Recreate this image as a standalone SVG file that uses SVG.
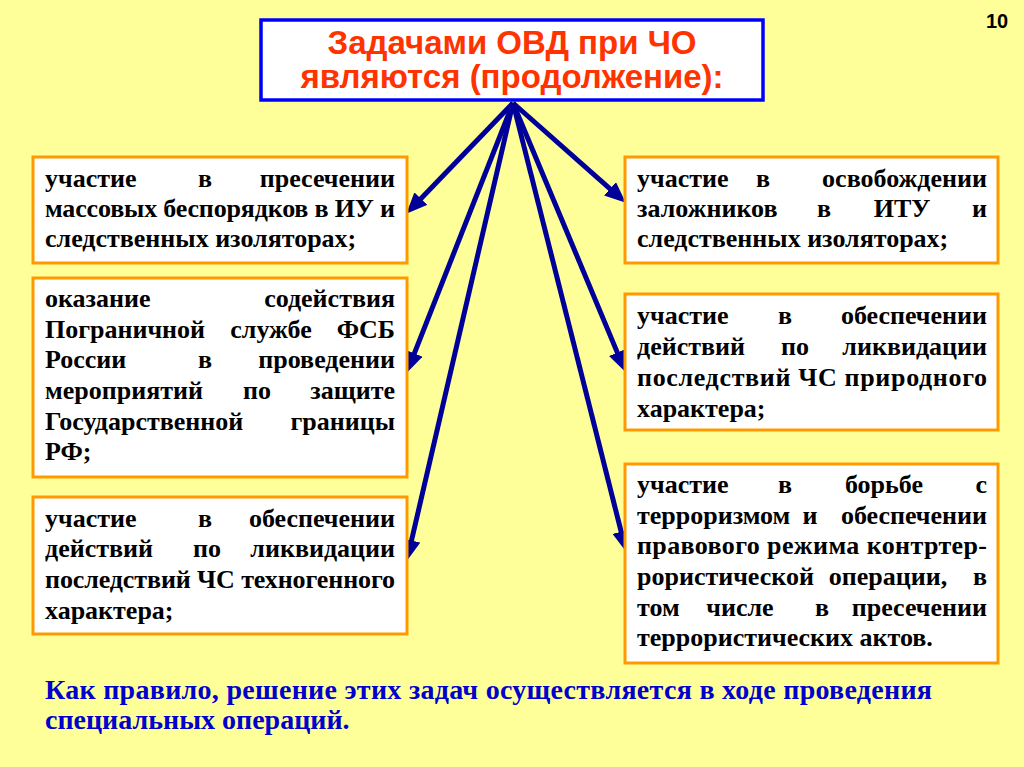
<svg xmlns="http://www.w3.org/2000/svg" width="1024" height="767" viewBox="0 0 1024 767">
<style>
.box{fill:#FFFFFF;stroke:#FF9900;stroke-width:3}
.t{font-family:"Liberation Serif","Times New Roman",serif;font-weight:bold;font-size:26px;fill:#000}
.m{text-anchor:middle}
.e{text-anchor:end}
.title{font-family:"Liberation Sans",Arial,sans-serif;font-weight:bold;font-size:33px;fill:#FF3300;text-anchor:middle}
.foot{font-family:"Liberation Serif","Times New Roman",serif;font-weight:bold;font-size:28px;fill:#0000CC}
.arr{stroke:#000099;stroke-width:5;fill:none;marker-end:url(#ah)}
</style>
<defs>
<marker id="ah" markerUnits="userSpaceOnUse" markerWidth="22" markerHeight="18" refX="8" refY="9" orient="auto">
<path d="M0,0 L21,9 L0,18 z" fill="#000099"/>
</marker>
</defs>
<rect x="0" y="0" width="1024" height="767" fill="#FFFF99"/>
<text x="997" y="28" font-family="Liberation Sans,Arial,sans-serif" font-weight="bold" font-size="20" text-anchor="middle" fill="#000">10</text>

<g id="title">
<rect x="261" y="20" width="502" height="80" fill="#FFFFFF" stroke="#0000FF" stroke-width="3.5"/>
<text class="title" x="512" y="54">Задачами ОВД при ЧО</text>
<text class="title" x="512" y="88">являются (продолжение):</text>
</g>

<g id="connectors">
<line class="arr" x1="513" y1="103" x2="415.3" y2="204.4"/>
<line class="arr" x1="513" y1="103" x2="411.4" y2="360.8"/>
<line class="arr" x1="513" y1="103" x2="409.7" y2="548.3"/>
<line class="arr" x1="513" y1="103" x2="616.0" y2="194.1"/>
<line class="arr" x1="513" y1="103" x2="620.4" y2="359.9"/>
<line class="arr" x1="513" y1="103" x2="623.1" y2="539.4"/>
</g>

<g id="left1">
<rect class="box" x="33" y="157" width="374" height="106"/>
<text class="t" x="45" y="187">участие</text><text class="t m" x="205" y="187">в</text><text class="t e" x="395" y="187">пресечении</text>
<text class="t" x="45" y="217" textLength="350" lengthAdjust="spacing">массовых беспорядков в ИУ и</text>
<text class="t" x="45" y="247">следственных изоляторах;</text>
</g>

<g id="left2">
<rect class="box" x="33" y="278" width="374" height="199"/>
<text class="t" x="45" y="307">оказание</text><text class="t e" x="395" y="307">содействия</text>
<text class="t" x="45" y="338">Пограничной</text><text class="t m" x="271" y="338">службе</text><text class="t e" x="395" y="338">ФСБ</text>
<text class="t" x="45" y="368">России</text><text class="t m" x="205" y="368">в</text><text class="t e" x="395" y="368">проведении</text>
<text class="t" x="45" y="399">мероприятий</text><text class="t m" x="257" y="399">по</text><text class="t e" x="395" y="399">защите</text>
<text class="t" x="45" y="430">Государственной</text><text class="t e" x="395" y="430">границы</text>
<text class="t" x="45" y="460">РФ;</text>
</g>

<g id="left3">
<rect class="box" x="33" y="497" width="374" height="137"/>
<text class="t" x="45" y="527">участие</text><text class="t m" x="205" y="527">в</text><text class="t e" x="395" y="527">обеспечении</text>
<text class="t" x="45" y="557">действий</text><text class="t m" x="207" y="557">по</text><text class="t e" x="395" y="557">ликвидации</text>
<text class="t" x="45" y="588" textLength="350" lengthAdjust="spacing">последствий ЧС техногенного</text>
<text class="t" x="45" y="619">характера;</text>
</g>

<g id="right1">
<rect class="box" x="625" y="157" width="373" height="106"/>
<text class="t" x="637" y="187">участие</text><text class="t m" x="763" y="187">в</text><text class="t e" x="987" y="187">освобождении</text>
<text class="t" x="637" y="217">заложников</text><text class="t m" x="824" y="217">в</text><text class="t m" x="902" y="217">ИТУ</text><text class="t e" x="987" y="217">и</text>
<text class="t" x="637" y="247">следственных изоляторах;</text>
</g>

<g id="right2">
<rect class="box" x="625" y="294" width="373" height="136"/>
<text class="t" x="637" y="324">участие</text><text class="t m" x="785" y="324">в</text><text class="t e" x="987" y="324">обеспечении</text>
<text class="t" x="637" y="355">действий</text><text class="t m" x="795" y="355">по</text><text class="t e" x="987" y="355">ликвидации</text>
<text class="t" x="637" y="386" textLength="350" lengthAdjust="spacing">последствий ЧС природного</text>
<text class="t" x="637" y="417">характера;</text>
</g>

<g id="right3">
<rect class="box" x="625" y="464" width="373" height="199"/>
<text class="t" x="637" y="493">участие</text><text class="t m" x="785" y="493">в</text><text class="t m" x="884" y="493">борьбе</text><text class="t e" x="987" y="493">с</text>
<text class="t" x="637" y="524">терроризмом</text><text class="t m" x="810" y="524">и</text><text class="t e" x="987" y="524">обеспечении</text>
<text class="t" x="637" y="554" textLength="350" lengthAdjust="spacing">правового режима контртер-</text>
<text class="t" x="637" y="585">рористической</text><text class="t m" x="888" y="585">операции,</text><text class="t e" x="987" y="585">в</text>
<text class="t" x="637" y="616">том</text><text class="t m" x="740" y="616">числе</text><text class="t m" x="822" y="616">в</text><text class="t e" x="987" y="616">пресечении</text>
<text class="t" x="637" y="646">террористических актов.</text>
</g>

<g id="footer">
<text class="foot" x="45" y="699" textLength="887" lengthAdjust="spacing">Как правило, решение этих задач осуществляется в ходе проведения</text>
<text class="foot" x="45" y="729">специальных операций.</text>
</g>
</svg>
